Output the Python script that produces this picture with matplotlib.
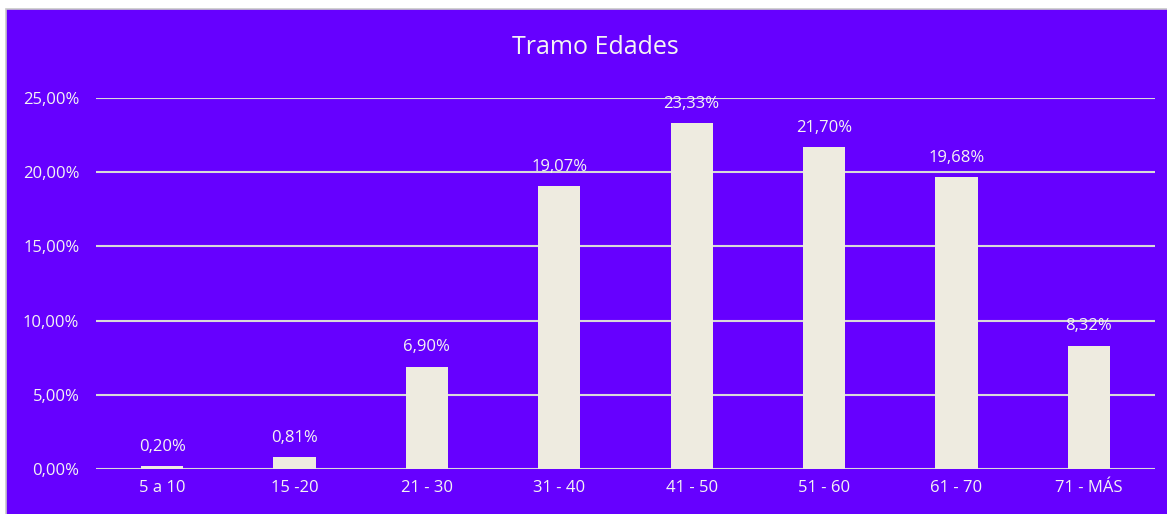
import matplotlib
matplotlib.use("Agg")
import matplotlib.pyplot as plt
from matplotlib.patches import Rectangle

categories = ["5 a 10", "15 -20", "21 - 30", "31 - 40", "41 - 50", "51 - 60", "61 - 70", "71 - MÁS"]
values = [0.20, 0.81, 6.90, 19.07, 23.33, 21.70, 19.68, 8.32]
yticks = [0, 5, 10, 15, 20, 25]
title = "Tramo Edades"

BG = "#6600FF"
BAR = "#EEEBE0"
GRID = "#D9D9D9"
TXT = "#F4F4F4"
FONT = ["Open Sans", "DejaVu Sans"]

W, H = 1167, 514
fig = plt.figure(figsize=(W / 100, H / 100), dpi=100, facecolor="white")
fig.patches.append(Rectangle((5.5 / W, -0.02), 1.05 - 5.5 / W, 1.02 - 9.5 / H, transform=fig.transFigure,
                             facecolor=BG, edgecolor="#C8C8C8", linewidth=1.2, zorder=-10))

ax = fig.add_axes([96 / W, (H - 469) / H, (1155 - 96) / W, (469 - 98) / H])
ax.set_facecolor("none")
x = list(range(len(categories)))
ax.bar(x, values, width=0.32, color=BAR, zorder=3)
ax.set_xlim(-0.5, len(categories) - 0.5)
ax.set_ylim(0, 25)
ax.set_yticks(yticks)
ax.set_yticklabels([f"{v:.2f}".replace(".", ",") + "%" for v in yticks], fontsize=12, color=TXT, family=FONT)
ax.set_xticks(x)
ax.set_xticklabels(categories, fontsize=12, color=TXT, family=FONT)
ax.tick_params(length=0, pad=12)
ax.tick_params(axis="x", pad=8)
ax.grid(axis="y", color=GRID, linewidth=1.5, zorder=1)
ax.set_axisbelow(True)
for s in ax.spines.values():
    s.set_visible(False)
for xi, v in zip(x, values):
    ax.annotate(f"{v:.2f}".replace(".", ",") + "%", (xi, v), xytext=(0, 8), textcoords="offset points",
                ha="center", va="bottom", fontsize=12, color=TXT, family=FONT, zorder=5,
                annotation_clip=False)
fig.text(595 / W, 1 - 48 / H, title, ha="center", va="center", fontsize=18, color=TXT, family=FONT)
fig.savefig("out.png", dpi=100, facecolor="white")
